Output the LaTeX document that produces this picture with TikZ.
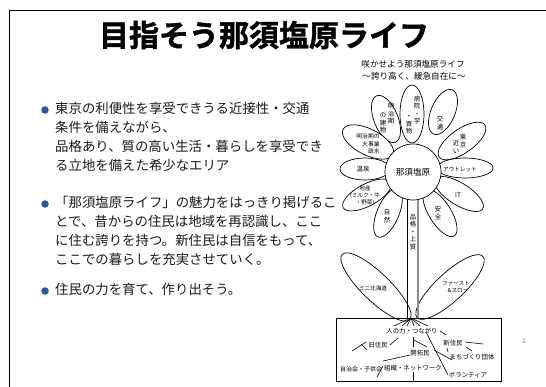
\documentclass[tikz,border=0pt]{standalone}
\usepackage{fontspec}
\setmainfont{Noto Sans CJK JP}[BoldFont={Noto Sans CJK JP Bold}]
\newfontfamily\titlefont{Noto Sans CJK JP Bold}[FakeBold=1.4]
\usepackage{tikz}
\usetikzlibrary{positioning,shapes.geometric}
\definecolor{NasuBlue}{HTML}{2F5597}
\definecolor{NasuText}{HTML}{1A1A1A}
\definecolor{NasuGrey}{HTML}{8C8C8C}

\begin{document}
\begin{tikzpicture}[
    x=1pt, y=-1pt,
    title/.style={font=\titlefont\fontsize{30}{34}\selectfont, inner sep=0pt},
    bodytext/.style={align=left, inner sep=0pt, anchor=north west, text=NasuText, font=\fontsize{13.4}{19}\selectfont},
    dot/.style={circle, fill=NasuBlue, inner sep=0pt, minimum size=7.5pt},
    subtitle/.style={font=\fontsize{8.6}{12}\selectfont, inner sep=0pt},
    petal/.style={draw, fill=white, line width=0.7pt},
    tiny/.style={font=\fontsize{6.4}{7.6}\selectfont, inner sep=0pt, align=center},
    root/.style={line width=0.6pt},
  ]
  \useasboundingbox (0,0) rectangle (546,387);
  \draw[line width=0.8pt] (9,387) -- (9,10) -- (546,10);

  \node[title] (title) at (264,35) {目指そう那須塩原ライフ};
  \node[subtitle] (sub1) at (413,64) {咲かせよう那須塩原ライフ};
  \node[subtitle] (sub2) at (414,76) {～誇り高く、緩急自在に～};

  \node[dot] (d1) at (45,110) {};
  \node[bodytext] (b1) at (55,102) {東京の利便性を享受できうる近接性・交通\\条件を備えながら、\\品格あり、質の高い生活・暮らしを享受でき\\る立地を備えた希少なエリア};
  \node[dot] (d2) at (45,204) {};
  \node[bodytext] (b2) at (55,196) {「那須塩原ライフ」の魅力をはっきり掲げるこ\\とで、昔からの住民は地域を再認識し、ここ\\に住む誇りを持つ。新住民は自信をもって、\\ここでの暮らしを充実させていく。};
  \node[dot] (d3) at (45,291) {};
  \node[bodytext] (b3) at (55,283) {住民の力を育て、作り出そう。};

  % petals
  \draw[petal, rotate around={-44:(376,287)}] (376,287) ellipse (47 and 14);
  \draw[petal, rotate around={43:(450,287)}] (450,287) ellipse (45 and 14);
  \draw[petal, rotate around={90:(412,114)}] (412,114) ellipse (29 and 12);
  \draw[petal, rotate around={112:(386,119)}] (386,119) ellipse (25 and 12);
  \draw[petal, rotate around={67:(443,112)}] (443,112) ellipse (24 and 12);
  \draw[petal, rotate around={35:(462,141)}] (462,141) ellipse (28 and 12);
  \draw[petal] (465,168) ellipse (28 and 10);
  \draw[petal, rotate around={-32:(459,194)}] (459,194) ellipse (28 and 11);
  \draw[petal, rotate around={-58:(440,213)}] (440,213) ellipse (27 and 11);
  \draw[petal, rotate around={67:(388,213)}] (388,213) ellipse (26 and 11);
  \draw[petal, rotate around={28:(367,195)}] (367,195) ellipse (27 and 11);
  \draw[petal] (365,169) ellipse (25 and 11);
  \draw[petal, rotate around={-27:(368,142)}] (368,142) ellipse (28 and 13);

  \draw[petal] (413,172) circle (28);
  \draw[line width=0.7pt] (407,200) -- (407,318);
  \draw[line width=1.1pt, draw=NasuGrey] (418,200) -- (418,318);

  \draw[line width=0.7pt] (336,318) rectangle (501,381);

  % roots
  \foreach \rx in {394,402,407,414,420,428}
    \draw[root] (411,318) -- (\rx,326);
  \draw[root] (366,342) -- (352,351);
  \draw[root] (361,344) -- (367,350);
  \draw[root] (398,338) -- (390,345);
  \draw[root] (383,361) -- (410,355);
  \draw[root] (377,377) -- (383,366);
  \draw[root] (413,337) -- (413,347);
  \draw[root] (414,340) -- (427,347);
  \draw[root] (413,372) -- (413,381);
  \draw[root] (426,332) -- (448,375);
  \draw[root] (434,350) -- (452,360);
  \draw[root] (440,331) -- (446,335);
  \draw[root] (465,342) -- (483,344);
  \draw[root] (466,347) -- (472,351);
  \draw[root] (447,348) -- (448,352);

  % petal texts
  \node[font=\fontsize{8.6}{10}\selectfont] (core) at (413,172) {那須塩原};
  \node[tiny] (hosp1) at (417,110) {病\\院\\・\\学};
  \node[tiny] (hosp2) at (409,125) {・\\買\\物};
  \node[tiny] (meiji1) at (391,114) {明\\治\\期};
  \node[tiny] (meiji2) at (383,123) {の\\建\\物};
  \node[tiny] (kotsu) at (440,123) {交\\通};
  \node[tiny] (tokyo) at (463,141) {東\\京};
  \node[tiny] (chikai) at (456,147) {近\\い};
  \node[tiny, font=\fontsize{5.6}{6.5}\selectfont] (outlet) at (460,169) {アウトレット};
  \node[tiny] (it) at (458,195) {IT};
  \node[tiny] (anzen) at (438,213) {安\\全};
  \node[tiny] (hinkaku) at (413,232) {品\\格\\・\\上\\質};
  \node[tiny] (shizen) at (387,216) {自\\然};
  \node[tiny, font=\fontsize{5.6}{7}\selectfont] (chisan) at (365,196) {地産\\(ミルク・牛\\・野菜)};
  \node[tiny] (onsen) at (363,169) {温泉};
  \node[tiny, font=\fontsize{5.8}{7.6}\selectfont, align=left] (sosui) at (368,144) {明治期の\\\quad 大事業\\\qquad 疏水};
  \node[tiny, font=\fontsize{5.6}{7}\selectfont] (hokkaido) at (373,288) {ミニ北海道};
  \node[tiny, font=\fontsize{5.6}{7.6}\selectfont, align=left] (fast) at (456,287) {ファースト\\\quad\&スロー};

  % root texts
  \node[tiny] (tsunagari) at (412,331) {人の力・つながり};
  \node[tiny] (kyu) at (378,345) {旧住民};
  \node[tiny] (kaitaku) at (420,353) {開拓民};
  \node[tiny] (shin) at (453,343) {新住民};
  \node[tiny] (machi) at (472,357) {まちづくり団体};
  \node[tiny, font=\fontsize{6}{7}\selectfont] (jichi) at (361,369) {自治会・子供会};
  \node[tiny] (soshiki) at (413,368) {組織・ネットワーク};
  \node[tiny] (volunteer) at (468,375) {ボランティア};

  \node[font=\fontsize{7}{8}\selectfont, text=NasuGrey] (page) at (524,341) {1};
\end{tikzpicture}
\end{document}
